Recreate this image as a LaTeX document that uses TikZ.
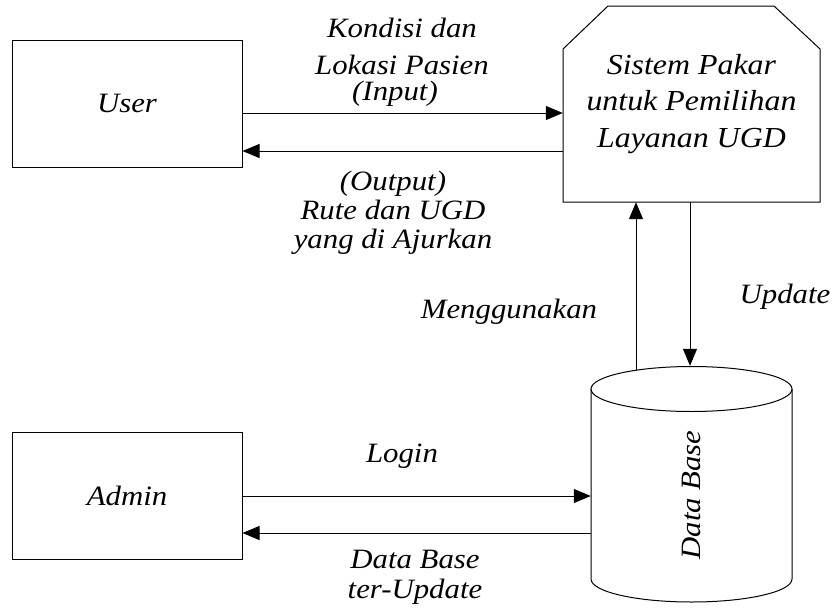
\documentclass[tikz,border=0pt]{standalone}
\usepackage{fontspec}
\newfontfamily\tnri{Liberation Serif Italic}[FakeStretch=1.1]
\usetikzlibrary{arrows.meta}
\begin{document}
\begin{tikzpicture}[x=1pt,y=-1pt,
  lbl/.style={font=\fontsize{28}{30}\selectfont\tnri, inner sep=0pt, align=center},
  boxnode/.style={draw, line width=1pt, minimum width=230pt, minimum height=127pt, inner sep=0pt, font=\fontsize{28}{30}\selectfont\tnri},
  conn/.style={line width=1pt, -{Triangle[length=17pt,width=14pt]}},
  edge/.style={line width=1pt}]
\useasboundingbox (0,0) rectangle (833,616);
\fill[white] (0,0) rectangle (833,616);
% entity boxes
\node[boxnode] (user) at (127,103.5) {User};
\node[boxnode] (admin) at (127,495.5) {Admin};
% system (cut-corner box)
\node[minimum width=257pt, minimum height=196pt, inner sep=0pt, align=center,
      font=\fontsize{29}{36.5}\selectfont\tnri] (sys) at (691.5,104)
      {Sistem Pakar\\untuk Pemilihan\\Layanan UGD};
\draw[edge] (563,49) -- (608,6) -- (774,6) -- (820,49) -- (820,202) -- (563,202) -- cycle;
% database cylinder
\node[minimum width=201pt, minimum height=236pt, inner sep=0pt] (db) at (691.5,484) {};
\draw[edge] (691.5,389) ellipse [x radius=100.5pt, y radius=22.5pt];
\draw[edge] (591,389) -- (591,579) arc[start angle=180, end angle=360, x radius=100.5pt, y radius=23pt] -- (792,389);
\node[lbl, rotate=90] (dbtxt) at (691,495) {Data Base};
\coordinate (dbtop) at (636,370);
% connectors
\draw[conn] (user.east |- 0,113) -- (sys.west |- 0,113);
\draw[conn] (sys.west |- 0,151) -- (user.east |- 0,151);
\draw[conn] (admin.east |- 0,496) -- (db.west |- 0,496);
\draw[conn] (db.west |- 0,533) -- (admin.east |- 0,533);
\draw[conn] (dbtop) -- (sys.south -| dbtop);
\draw[conn] (sys.south -| 690,0) -- (db.north -| 690,0);
% labels
\node[lbl, anchor=base, font=\fontsize{28}{37}\selectfont\tnri] (kond) at (402,74) {Kondisi dan\\Lokasi Pasien};
\node[lbl, anchor=base] (inp) at (395,100) {(Input)};
\node[lbl, anchor=base, font=\fontsize{28}{29}\selectfont\tnri] (outp) at (393,248) {(Output)\\Rute dan UGD\\yang di Ajurkan};
\node[lbl, anchor=base] (meng) at (509,318) {Menggunakan};
\node[lbl, anchor=base] (upd) at (785,303) {Update};
\node[lbl, anchor=base] (login) at (402,462) {Login};
\node[lbl, anchor=base, font=\fontsize{28}{30}\selectfont\tnri] (dbup) at (415,598) {Data Base\\ter-Update};
\end{tikzpicture}
\end{document}
